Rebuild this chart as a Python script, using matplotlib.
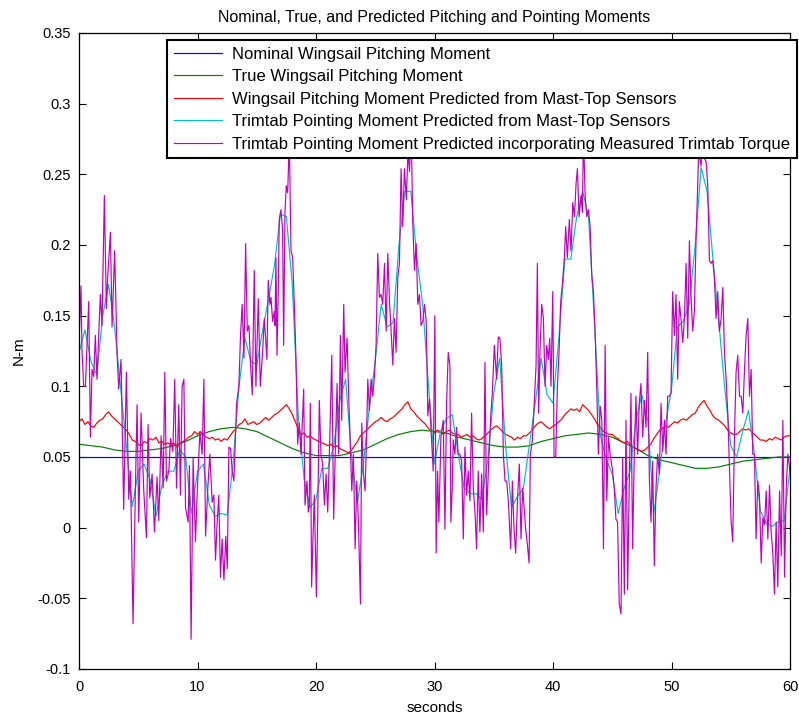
import numpy as np
import matplotlib
matplotlib.use("Agg")
import matplotlib.pyplot as plt

plt.rcParams['font.family'] = ['Liberation Sans', 'DejaVu Sans']

# ---------------------------------------------------------------- data
title = "Nominal, True, and Predicted Pitching and Pointing Moments"
series_labels = [
    "Nominal Wingsail Pitching Moment",
    "True Wingsail Pitching Moment",
    "Wingsail Pitching Moment Predicted from Mast-Top Sensors",
    "Trimtab Pointing Moment Predicted from Mast-Top Sensors",
    "Trimtab Pointing Moment Predicted incorporating Measured Trimtab Torque",
]
x_ticks = [0, 10, 20, 30, 40, 50, 60]
y_ticks = [-0.1, -0.05, 0, 0.05, 0.1, 0.15, 0.2, 0.25, 0.3, 0.35]
y_tick_labels = ["-0.1", "-0.05", "0", "0.05", "0.1", "0.15", "0.2", "0.25", "0.3", "0.35"]

# nominal pitching moment (constant)
nominal_t = [0, 60]
nominal_v = [0.05, 0.05]

# true pitching moment, 1 s samples
true_v = [
    0.059, 0.058, 0.057, 0.055, 0.054, 0.054, 0.055, 0.056, 0.058, 0.061,
    0.065, 0.068, 0.070, 0.071, 0.070, 0.068, 0.064, 0.060, 0.056, 0.053,
    0.051, 0.051, 0.051, 0.053, 0.055, 0.059, 0.063, 0.066, 0.068, 0.069,
    0.068, 0.067, 0.064, 0.062, 0.060, 0.058, 0.057, 0.057, 0.058, 0.061,
    0.063, 0.065, 0.066, 0.067, 0.066, 0.064, 0.060, 0.056, 0.051, 0.048,
    0.046, 0.044, 0.042, 0.042, 0.043, 0.045, 0.047, 0.048, 0.049, 0.050,
    0.050,
]

# pitching moment predicted from mast-top sensors, 0.25 s samples
mast_pitch_v = [
    0.075, 0.077, 0.073, 0.075, 0.072, 0.071, 0.074, 0.076, 0.077, 0.080,
    0.082, 0.079, 0.077, 0.075, 0.073, 0.071, 0.069, 0.066, 0.062, 0.061,
    0.059, 0.058, 0.061, 0.060, 0.063, 0.062, 0.064, 0.060, 0.061, 0.059,
    0.060, 0.058, 0.060, 0.057, 0.059, 0.061, 0.062, 0.064, 0.065, 0.068,
    0.066, 0.068, 0.065, 0.064, 0.063, 0.064, 0.062, 0.063, 0.061, 0.063,
    0.062, 0.065, 0.068, 0.070, 0.073, 0.074, 0.077, 0.073, 0.074, 0.075,
    0.073, 0.074, 0.076, 0.078, 0.076, 0.078, 0.080, 0.081, 0.083, 0.085,
    0.087, 0.084, 0.080, 0.075, 0.070, 0.066, 0.067, 0.064, 0.065, 0.063,
    0.062, 0.061, 0.060, 0.059, 0.058, 0.059, 0.057, 0.058, 0.056, 0.055,
    0.054, 0.053, 0.055, 0.058, 0.061, 0.065, 0.067, 0.069, 0.071, 0.073,
    0.075, 0.076, 0.078, 0.076, 0.075, 0.077, 0.078, 0.080, 0.082, 0.084,
    0.087, 0.089, 0.084, 0.082, 0.079, 0.077, 0.075, 0.073, 0.070, 0.069,
    0.067, 0.069, 0.068, 0.066, 0.068, 0.069, 0.067, 0.066, 0.066, 0.064,
    0.065, 0.066, 0.064, 0.065, 0.063, 0.062, 0.063, 0.065, 0.067, 0.069,
    0.071, 0.072, 0.070, 0.068, 0.066, 0.065, 0.064, 0.062, 0.064, 0.063,
    0.065, 0.065, 0.067, 0.069, 0.072, 0.074, 0.075, 0.073, 0.071, 0.070,
    0.072, 0.073, 0.075, 0.077, 0.080, 0.082, 0.084, 0.083, 0.084, 0.082,
    0.087, 0.085, 0.083, 0.080, 0.077, 0.073, 0.071, 0.068, 0.067, 0.066,
    0.066, 0.064, 0.063, 0.061, 0.060, 0.061, 0.059, 0.057, 0.056, 0.055,
    0.054, 0.055, 0.057, 0.059, 0.063, 0.066, 0.069, 0.070, 0.072, 0.071,
    0.073, 0.075, 0.074, 0.076, 0.077, 0.076, 0.078, 0.080, 0.081, 0.085,
    0.088, 0.090, 0.086, 0.083, 0.079, 0.077, 0.076, 0.074, 0.072, 0.069,
    0.067, 0.066, 0.066, 0.068, 0.070, 0.069, 0.070, 0.068, 0.066, 0.064,
    0.062, 0.062, 0.061, 0.063, 0.062, 0.064, 0.063, 0.062, 0.064, 0.065,
    0.065,
]

# trimtab pointing moment from mast-top sensors, 0.5 s samples
trimtab_v = [
    0.124, 0.140, 0.118, 0.108, 0.150, 0.172, 0.142, 0.100, 0.058, 0.015,
    0.040, 0.045, 0.034, 0.008, 0.030, 0.040, 0.040, 0.055, 0.050, 0.010,
    0.040, 0.045, 0.016, 0.008, 0.010, 0.009, 0.045, 0.100, 0.134, 0.118,
    0.115, 0.140, 0.162, 0.186, 0.222, 0.220, 0.172, 0.080, 0.034, 0.014,
    0.020, 0.042, 0.042, 0.058, 0.090, 0.105, 0.050, 0.018, 0.045, 0.085,
    0.118, 0.158, 0.142, 0.145, 0.200, 0.238, 0.238, 0.192, 0.158, 0.100,
    0.045, 0.068, 0.077, 0.080, 0.052, 0.028, 0.024, 0.024, 0.020, 0.048,
    0.095, 0.120, 0.058, 0.014, 0.022, 0.028, 0.058, 0.088, 0.120, 0.094,
    0.088, 0.135, 0.190, 0.190, 0.220, 0.238, 0.220, 0.145, 0.065, 0.048,
    0.038, 0.010, 0.028, 0.040, 0.076, 0.094, 0.076, 0.010, 0.040, 0.074,
    0.098, 0.142, 0.146, 0.158, 0.200, 0.255, 0.238, 0.190, 0.145, 0.098,
    0.058, 0.050, 0.068, 0.083, 0.052, 0.012, 0.003, 0.001, 0.004, 0.005,
    0.042,
]

# trimtab pointing moment using measured trimtab torque
torque_t = [
    0.00, 0.17, 0.25, 0.39, 0.54, 0.82, 0.96, 1.10, 1.24, 1.38,
    1.52, 1.66, 1.80, 1.94, 2.14, 2.31, 2.42, 2.65, 2.79, 3.01,
    3.21, 3.35, 3.55, 3.77, 4.00, 4.20, 4.34, 4.56, 4.76, 4.90,
    5.04, 5.24, 5.46, 5.69, 5.83, 5.97, 6.17, 6.37, 6.59, 6.73,
    6.93, 7.10, 7.24, 7.38, 7.58, 7.72, 7.92, 8.08, 8.23, 8.42,
    8.56, 8.70, 8.85, 8.99, 9.21, 9.32, 9.46, 9.63, 9.83, 9.97,
    10.20, 10.39, 10.54, 10.68, 10.87, 11.04, 11.24, 11.38, 11.52, 11.66,
    11.80, 11.94, 12.08, 12.23, 12.39, 12.51, 12.65, 12.79, 12.93, 13.07,
    13.30, 13.49, 13.63, 13.77, 13.92, 14.06, 14.20, 14.34, 14.48, 14.62,
    14.79, 14.93, 15.13, 15.30, 15.49, 15.64, 15.86, 15.97, 16.11, 16.20,
    16.34, 16.48, 16.54, 16.62, 16.71, 16.82, 16.90, 17.04, 17.18, 17.27,
    17.38, 17.49, 17.61, 17.75, 17.89, 18.03, 18.17, 18.31, 18.45, 18.59,
    18.73, 18.82, 18.96, 19.07, 19.24, 19.35, 19.44, 19.52, 19.63, 19.75,
    19.86, 20.03, 20.14, 20.28, 20.42, 20.56, 20.71, 20.85, 20.99, 21.13,
    21.33, 21.49, 21.63, 21.78, 21.92, 22.06, 22.17, 22.34, 22.45, 22.62,
    22.76, 22.90, 23.02, 23.16, 23.30, 23.44, 23.58, 23.75, 23.86, 24.00,
    24.14, 24.25, 24.37, 24.51, 24.65, 24.79, 24.93, 25.07, 25.21, 25.35,
    25.49, 25.63, 25.78, 25.92, 26.06, 26.20, 26.34, 26.48, 26.62, 26.76,
    26.90, 27.04, 27.18, 27.32, 27.46, 27.63, 27.75, 27.89, 28.03, 28.17,
    28.31, 28.45, 28.59, 28.73, 28.87, 29.01, 29.16, 29.30, 29.44, 29.58,
    29.72, 29.89, 30.03, 30.14, 30.26, 30.37, 30.54, 30.74, 30.88, 31.02,
    31.16, 31.30, 31.38, 31.50, 31.58, 31.72, 31.86, 32.00, 32.14, 32.29,
    32.43, 32.57, 32.71, 32.85, 32.99, 33.13, 33.27, 33.41, 33.55, 33.69,
    33.83, 33.98, 34.12, 34.26, 34.40, 34.60, 34.76, 34.88, 35.05, 35.24,
    35.38, 35.52, 35.67, 35.81, 35.95, 36.09, 36.23, 36.43, 36.57, 36.71,
    36.85, 37.02, 37.16, 37.30, 37.44, 37.55, 37.69, 37.83, 37.98, 38.09,
    38.26, 38.43, 38.57, 38.68, 38.79, 38.90, 39.05, 39.19, 39.33, 39.47,
    39.61, 39.72, 39.83, 39.98, 40.09, 40.23, 40.37, 40.51, 40.65, 40.79,
    40.96, 41.07, 41.21, 41.38, 41.52, 41.67, 41.81, 41.95, 42.06, 42.20,
    42.37, 42.48, 42.57, 42.71, 42.85, 42.99, 43.13, 43.27, 43.41, 43.55,
    43.69, 43.83, 43.98, 44.12, 44.26, 44.40, 44.54, 44.68, 44.82, 45.03,
    45.17, 45.31, 45.45, 45.59, 45.74, 45.88, 46.02, 46.16, 46.30, 46.44,
    46.58, 46.72, 46.86, 47.00, 47.14, 47.28, 47.42, 47.57, 47.71, 47.85,
    47.99, 48.13, 48.27, 48.41, 48.55, 48.69, 48.83, 48.97, 49.12, 49.26,
    49.40, 49.54, 49.68, 49.82, 49.96, 50.10, 50.24, 50.38, 50.52, 50.66,
    50.80, 50.95, 51.09, 51.23, 51.37, 51.51, 51.65, 51.79, 51.93, 52.07,
    52.21, 52.30, 52.38, 52.50, 52.66, 52.78, 52.92, 53.06, 53.20, 53.34,
    53.48, 53.62, 53.76, 53.90, 54.04, 54.19, 54.33, 54.47, 54.61, 54.75,
    54.89, 55.03, 55.17, 55.31, 55.45, 55.59, 55.74, 55.88, 56.02, 56.16,
    56.30, 56.44, 56.58, 56.72, 56.86, 57.00, 57.14, 57.28, 57.42, 57.57,
    57.71, 57.85, 57.99, 58.13, 58.27, 58.41, 58.55, 58.69, 58.83, 58.97,
    59.12, 59.26, 59.40, 59.54, 59.68, 59.82, 60.00,
]
torque_v = [
    0.130, 0.171, 0.126, 0.100, 0.100, 0.160, 0.064, 0.112, 0.107, 0.136,
    0.105, 0.136, 0.165, 0.143, 0.235, 0.155, 0.177, 0.209, 0.142, 0.196,
    0.124, 0.098, 0.119, 0.013, 0.110, 0.020, 0.040, -0.068, 0.028, 0.087,
    0.004, 0.081, 0.027, -0.007, 0.073, 0.021, 0.038, -0.003, 0.036, 0.005,
    0.065, 0.028, 0.110, 0.033, 0.040, 0.063, 0.054, 0.105, 0.028, 0.087,
    0.023, 0.100, 0.105, 0.014, 0.004, 0.044, -0.079, 0.049, -0.010, 0.023,
    0.068, 0.052, 0.105, -0.006, 0.028, 0.052, 0.018, 0.023, -0.023, 0.004,
    0.023, -0.035, -0.008, -0.037, -0.006, -0.029, 0.057, 0.056, 0.040, 0.033,
    0.088, 0.100, 0.136, 0.158, 0.120, 0.201, 0.139, 0.143, 0.115, 0.094,
    0.182, 0.100, 0.162, 0.100, 0.124, 0.148, 0.119, 0.175, 0.158, 0.163,
    0.146, 0.153, 0.143, 0.191, 0.122, 0.170, 0.218, 0.225, 0.211, 0.129,
    0.223, 0.242, 0.237, 0.275, 0.196, 0.191, 0.158, 0.120, 0.059, 0.074,
    0.052, 0.069, 0.098, 0.016, 0.033, 0.011, 0.016, 0.088, -0.042, -0.006,
    0.023, -0.049, 0.004, 0.090, 0.052, 0.045, 0.016, 0.038, 0.011, 0.052,
    0.122, 0.006, 0.055, 0.102, 0.052, 0.136, 0.076, 0.158, 0.110, 0.134,
    0.093, 0.057, 0.026, 0.052, -0.015, 0.033, 0.004, -0.054, 0.074, 0.038,
    0.026, 0.059, 0.105, 0.083, 0.105, 0.093, 0.107, 0.129, 0.194, 0.163,
    0.165, 0.158, 0.187, 0.139, 0.194, 0.160, 0.139, 0.115, 0.148, 0.124,
    0.177, 0.187, 0.254, 0.213, 0.254, 0.232, 0.266, 0.252, 0.282, 0.215,
    0.182, 0.201, 0.158, 0.165, 0.143, 0.146, 0.158, 0.146, 0.079, 0.091,
    0.067, 0.040, 0.150, -0.018, 0.040, 0.004, 0.064, 0.076, -0.001, 0.088,
    0.124, 0.115, 0.004, 0.028, 0.062, 0.052, 0.071, 0.052, 0.052, 0.047,
    -0.008, 0.057, 0.023, 0.040, 0.019, 0.081, 0.028, 0.012, -0.015, 0.040,
    -0.003, 0.038, -0.003, 0.117, 0.009, 0.052, 0.081, 0.095, 0.129, 0.105,
    0.135, 0.134, 0.115, 0.052, 0.033, 0.033, 0.019, -0.015, 0.033, -0.001,
    -0.018, 0.023, 0.045, -0.008, 0.028, 0.016, -0.001, -0.011, -0.025, 0.052,
    0.062, 0.090, 0.115, 0.187, 0.081, 0.124, 0.158, 0.148, 0.100, 0.129,
    0.119, 0.134, 0.100, 0.167, 0.050, 0.050, 0.100, 0.124, 0.160, 0.172,
    0.191, 0.213, 0.191, 0.218, 0.196, 0.230, 0.220, 0.244, 0.254, 0.220,
    0.235, 0.223, 0.280, 0.235, 0.220, 0.225, 0.213, 0.179, 0.167, 0.139,
    0.100, 0.052, 0.086, 0.076, -0.015, 0.129, 0.019, 0.064, 0.052, 0.040,
    0.028, 0.006, 0.004, -0.054, -0.061, 0.049, -0.047, 0.076, -0.044, 0.033,
    0.095, -0.015, 0.052, 0.093, 0.052, 0.088, 0.102, 0.064, 0.090, 0.071,
    0.124, 0.035, 0.004, 0.047, -0.027, 0.028, 0.052, 0.038, 0.088, 0.054,
    0.076, 0.052, 0.093, 0.093, 0.095, 0.167, 0.136, 0.165, 0.105, 0.160,
    0.148, 0.131, 0.148, 0.187, 0.134, 0.203, 0.163, 0.139, 0.153, 0.203,
    0.242, 0.270, 0.261, 0.256, 0.285, 0.261, 0.259, 0.242, 0.189, 0.187,
    0.189, 0.177, 0.148, 0.167, 0.139, 0.148, 0.170, 0.124, 0.105, 0.081,
    0.043, 0.004, -0.010, 0.064, 0.110, 0.122, 0.093, 0.093, 0.081, 0.112,
    0.136, 0.148, 0.093, 0.112, 0.052, 0.052, -0.008, 0.033, 0.023, -0.025,
    0.007, 0.002, 0.026, -0.008, 0.030, -0.003, -0.018, -0.047, 0.004, -0.042,
    0.026, -0.020, 0.076, -0.035, 0.028, 0.052, 0.040,
]

# ---------------------------------------------------------------- figure
W, H = 799, 717
fig = plt.figure(figsize=(W / 100, H / 100), dpi=100)
ax = fig.add_axes([79 / W, 1 - 669 / H, (790 - 79) / W, (669 - 33) / H])

t_true = np.linspace(0, 60, len(true_v))
t_mast = np.linspace(0, 60, len(mast_pitch_v))
t_trim = np.linspace(0, 60, len(trimtab_v))

lw = 0.85
ax.plot(nominal_t, nominal_v, color='#0000ff', lw=lw, label=series_labels[0])
ax.plot(t_true, true_v, color='#008000', lw=lw, label=series_labels[1])
ax.plot(t_mast, mast_pitch_v, color='#ff0000', lw=lw, label=series_labels[2])
ax.plot(t_trim, trimtab_v, color='#00bfbf', lw=lw, label=series_labels[3])
ax.plot(torque_t, torque_v, color='#bf00bf', lw=lw, label=series_labels[4])

ax.set_xlim(0, 60)
ax.set_ylim(-0.1, 0.35)
ax.set_xticks(x_ticks)
ax.set_yticks(y_ticks)
ax.set_yticklabels(y_tick_labels)
ax.tick_params(direction='in', top=True, right=True, length=5, width=0.8,
               labelsize=10.5, pad=6)
ax.tick_params(axis='x', pad=8)
for s in ax.spines.values():
    s.set_linewidth(0.9)

ax.set_title(title, fontsize=11.5, pad=8)
ax.set_xlabel("seconds", fontsize=11, labelpad=5)
ax.set_ylabel("N-m", fontsize=11, labelpad=8)

leg = ax.legend(loc='upper right', bbox_to_anchor=(797 / W, 1 - 40 / H),
                bbox_transform=fig.transFigure, fancybox=False, frameon=True,
                edgecolor='black', framealpha=1, fontsize=12,
                handlelength=2.9, handletextpad=0.6, labelspacing=0.45,
                borderpad=0.4, borderaxespad=0)
leg.get_frame().set_linewidth(1.5)

fig.savefig("out.png", dpi=100)
